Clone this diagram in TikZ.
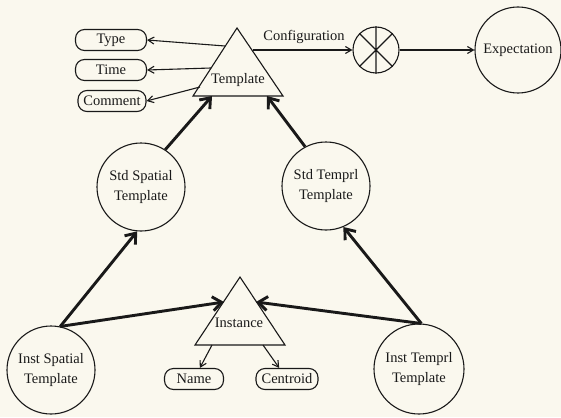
\documentclass[tikz,border=0pt]{standalone}
\usepackage{fontspec}
\setmainfont{Liberation Serif}
\usetikzlibrary{arrows.meta}
\definecolor{paper}{RGB}{250,248,238}
\definecolor{ink}{RGB}{25,25,25}
\begin{document}
\begin{tikzpicture}[x=1pt,y=-1pt,
  every node/.style={font=\fontsize{14.5}{20}\selectfont, text=ink},
  thinarrow/.style={draw=ink, line width=1.1pt, -{Straight Barb[length=6pt,width=7pt]}},
  thickarrow/.style={draw=ink, line width=2.9pt, -{Straight Barb[length=9pt,width=14pt]}},
  pill/.style={draw=ink, line width=1.1pt, rounded corners=9pt, minimum height=21pt, inner sep=1pt},
  bigcirc/.style={draw=ink, line width=1.1pt, circle, minimum size=88pt, inner sep=0pt, align=center},
  tri/.style={draw=ink, line width=1.1pt, line join=miter}
]
\path[use as bounding box, fill=paper] (0,0) rectangle (561,417);

% Template triangle
\draw[tri] (237,28) -- (283,96) -- (193,96) -- cycle;
\node (tmpl) at (238,80) {Template};
\coordinate (tType) at (225,46);
\coordinate (tTime) at (211,68);
\coordinate (tCom) at (200,87);
\coordinate (tConf) at (252.5,50);
\coordinate (tBL) at (212,96);
\coordinate (tBR) at (267,96);

\node[pill, minimum width=71pt] (type) at (111,40) {Type};
\node[pill, minimum width=71pt] (time) at (111,70) {Time};
\node[pill, minimum width=68pt] (com) at (112,101) {Comment};
\draw[thinarrow] (tType) -- (type.east);
\draw[thinarrow] (tTime) -- (time.east);
\draw[thinarrow] (tCom) -- (com.east);

\node (conf) at (304,37) {Configuration};
\node[draw=ink, line width=1.1pt, circle, minimum size=46pt, inner sep=0pt] (cross) at (376,50) {};
\draw[ink, line width=1.1pt] (cross.north) -- (cross.south) (cross.45) -- (cross.225) (cross.135) -- (cross.315);
\draw[thinarrow] (tConf) -- (cross.west);
\node[bigcirc, minimum size=86pt] (expect) at (518,50) {Expectation};
\draw[thinarrow] (cross) -- (expect);

\node[bigcirc] (stdS) at (141,187) {Std Spatial\\Template};
\node[bigcirc] (stdT) at (326,186) {Std Temprl\\Template};
\node[bigcirc] (instS) at (51,370) {Inst Spatial\\Template};
\node[bigcirc, minimum size=90pt] (instT) at (419,369) {Inst Temprl\\Template};

% Instance triangle
\draw[tri] (240,277) -- (285,345) -- (195,345) -- cycle;
\node (inst) at (239,323) {Instance};
\coordinate (iL) at (224,302);
\coordinate (iR) at (256,302);
\coordinate (iName) at (212,345);
\coordinate (iCen) at (263,345);
\node[pill, minimum width=59pt] (name) at (194,379) {Name};
\node[pill, minimum width=62pt] (cen) at (287,379) {Centroid};
\draw[thinarrow] (iName) -- (name);
\draw[thinarrow] (iCen) -- (cen);

% thick arrows
\draw[thickarrow] (stdS.57) -- (tBL);
\draw[thickarrow] (stdT.118) -- (tBR);
\draw[thickarrow] (instS.78) -- (stdS.-95);
\draw[thickarrow] (instS.78) -- (iL);
\draw[thickarrow] (instT.87) -- (stdT.-67);
\draw[thickarrow] (instT.87) -- (iR);
\end{tikzpicture}
\end{document}
